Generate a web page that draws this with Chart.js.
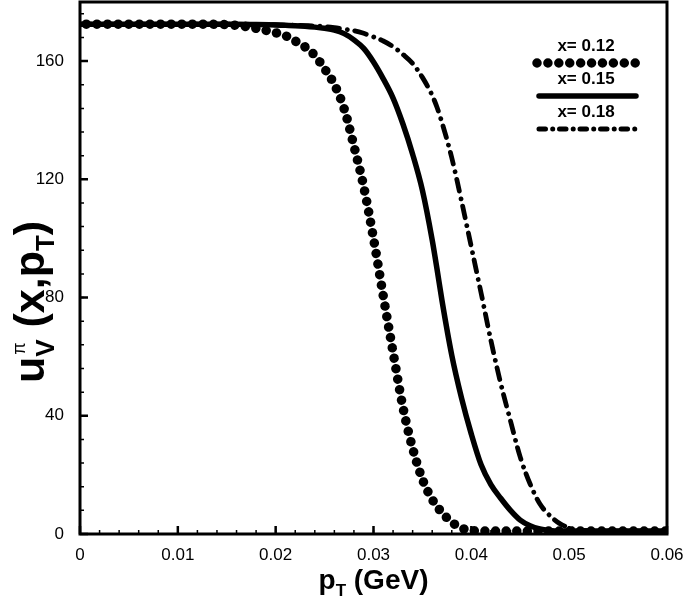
<!DOCTYPE html>
<html lang="en">
<head>
    <meta charset="UTF-8">
    <title>u_V pion TMD vs pT</title>
    <script src="https://cdn.jsdelivr.net/npm/chart.js"></script>
    <style>
        html, body { margin: 0; padding: 0; background: #fff; }
        canvas { display: block; }
    </style>
</head>
<body>
    <canvas id="tmdChart" width="685" height="601"></canvas>

    <script>
        // pT grid (GeV) shared by the three curves
        const pT = [0, 0.004, 0.008, 0.012, 0.016, 0.018, 0.020, 0.021, 0.022, 0.023,
                    0.024, 0.025, 0.026, 0.027, 0.028, 0.029, 0.030, 0.031, 0.032, 0.033,
                    0.034, 0.035, 0.036, 0.0365, 0.037, 0.038, 0.039, 0.040, 0.041, 0.042,
                    0.043, 0.044, 0.045, 0.046, 0.047, 0.048, 0.049, 0.050, 0.051, 0.052,
                    0.054, 0.057, 0.060];

        // x = 0.12 (dots)
        const u012 = [172.5, 172.5, 172.5, 172.5, 172.1, 171.1, 169.6, 168.6, 166.8, 164.8,
                      161.9, 157.4, 152.1, 143.9, 131.3, 117.5, 100.0, 80.5, 61.5, 43.0,
                      29.0, 18.5, 11.7, 9.3, 7.2, 4.0, 2.0, 1.2, 1.0, 1.0,
                      1.0, 1.0, 1.0, 1.0, 1.0, 1.0, 1.0, 1.0, 1.0, 1.0,
                      1.0, 1.0, 1.0];

        // x = 0.15 (solid)
        const u015 = [172.5, 172.5, 172.5, 172.5, 172.5, 172.4, 172.2, 172.1, 172.0, 171.8,
                      171.5, 171.1, 170.5, 169.3, 167.2, 164.3, 159.7, 154.0, 147.5, 138.8,
                      128.5, 116.3, 99.5, 89.5, 79.0, 60.5, 46.0, 33.8, 23.4, 16.7,
                      12.1, 8.0, 4.7, 2.8, 1.7, 1.2, 1.0, 1.0, 1.0, 1.0,
                      1.0, 1.0, 1.0];

        // x = 0.18 (dash-dot)
        const u018 = [172.5, 172.5, 172.5, 172.5, 172.5, 172.4, 172.3, 172.2, 172.1, 172.0,
                      171.9, 171.7, 171.3, 170.8, 170.3, 169.4, 168.2, 166.8, 164.9, 162.3,
                      159.2, 154.5, 148.4, 144.3, 139.2, 127.3, 112.6, 97.1, 81.5, 65.5,
                      51.0, 38.3, 26.0, 17.0, 10.2, 6.3, 3.6, 2.1, 1.4, 1.1,
                      1.0, 1.0, 1.0];

        const seriesLabels = ['x= 0.12', 'x= 0.15', 'x= 0.18'];

        const xTicks = [0, 0.01, 0.02, 0.03, 0.04, 0.05, 0.06];
        const xTickLabels = ['0', '0.01', '0.02', '0.03', '0.04', '0.05', '0.06'];
        const yTicks = [0, 40, 80, 120, 160];
        const yTickLabels = ['0', '40', '80', '120', '160'];
        const xMinorStep = 0.002;
        const yMinorStep = 8;

        const FONT = "'Liberation Sans', Arial, sans-serif";

        function toPoints(ys) {
            return pT.map((x, i) => ({ x: x, y: ys[i] }));
        }

        // legend dash patterns (shorter period than on the curves)
        const legendDash = [[0.01, 10.9], [], [6.5, 7.2, 0.01, 6.8]];

        // frame, inward tick marks, axis titles and legend
        const decorPlugin = {
            id: 'decor',
            afterDatasetsDraw(chart) {
                const ctx = chart.ctx;
                const a = chart.chartArea;
                const xs = chart.scales.x;
                const ys = chart.scales.y;
                ctx.save();
                ctx.strokeStyle = '#000';
                ctx.lineCap = 'butt';

                // minor ticks
                ctx.lineWidth = 1.5;
                ctx.beginPath();
                for (let v = 0; v <= xs.max + 1e-9; v += xMinorStep) {
                    const px = xs.getPixelForValue(v);
                    ctx.moveTo(px, a.bottom);
                    ctx.lineTo(px, a.bottom - 4);
                }
                for (let v = 0; v <= ys.max + 1e-9; v += yMinorStep) {
                    const py = ys.getPixelForValue(v);
                    ctx.moveTo(a.left, py);
                    ctx.lineTo(a.left + 4, py);
                }
                ctx.stroke();

                // major ticks
                ctx.lineWidth = 2.5;
                ctx.beginPath();
                xTicks.forEach(v => {
                    const px = xs.getPixelForValue(v);
                    ctx.moveTo(px, a.bottom);
                    ctx.lineTo(px, a.bottom - 8);
                });
                yTicks.forEach(v => {
                    const py = ys.getPixelForValue(v);
                    ctx.moveTo(a.left, py);
                    ctx.lineTo(a.left + 8, py);
                });
                ctx.stroke();

                // frame
                ctx.lineWidth = 3;
                ctx.strokeRect(a.left, a.top, a.right - a.left, a.bottom - a.top);

                ctx.fillStyle = '#000';
                ctx.textBaseline = 'alphabetic';

                // x axis title: p_T (GeV)
                const big = 'bold 28px ' + FONT;
                const sub = 'bold 17px ' + FONT;
                ctx.font = big;
                const wp = ctx.measureText('p').width;
                const wg = ctx.measureText(' (GeV)').width;
                ctx.font = sub;
                const wt = ctx.measureText('T').width;
                let x0 = (a.left + a.right) / 2 - (wp + wt + wg) / 2;
                const by = 589;
                ctx.textAlign = 'left';
                ctx.font = big;
                ctx.fillText('p', x0, by);
                ctx.font = sub;
                ctx.fillText('T', x0 + wp, by + 7);
                ctx.font = big;
                ctx.fillText(' (GeV)', x0 + wp + wt, by);

                // y axis title: u_V^pi (x,p_T)
                ctx.save();
                ctx.translate(44, 302);
                ctx.rotate(-Math.PI / 2);
                const ybig = 'bold 43px ' + FONT;
                const ysub = 'bold 26px ' + FONT;
                const ysup = '18px ' + FONT;
                ctx.font = ybig;
                const wu = ctx.measureText('u').width;
                const wx = ctx.measureText(' (x,p').width;
                const wc = ctx.measureText(')').width;
                ctx.font = ysub;
                const wv = ctx.measureText('V').width;
                const wT = ctx.measureText('T').width;
                let cx = -(wu + wv + wx + wT + wc) / 2;
                ctx.font = ybig;
                ctx.fillText('u', cx, 0);
                cx += wu;
                ctx.font = ysub;
                ctx.fillText('V', cx, 10);
                ctx.font = ysup;
                ctx.fillText('\u03c0', cx + 2, -19);
                cx += wv;
                ctx.font = ybig;
                ctx.fillText(' (x,p', cx, 0);
                cx += wx;
                ctx.font = ysub;
                ctx.fillText('T', cx, 10);
                cx += wT;
                ctx.font = ybig;
                ctx.fillText(')', cx, 0);
                ctx.restore();

                // legend: label above a line sample
                const lx0 = 537, lx1 = 636, lcx = 586;
                chart.data.datasets.forEach((ds, i) => {
                    const ty = 51 + i * 33;
                    const ly = 63 + i * 33;
                    ctx.font = 'bold 17px ' + FONT;
                    ctx.textAlign = 'center';
                    ctx.fillText(ds.label, lcx, ty);
                    ctx.beginPath();
                    ctx.lineWidth = i === 2 ? 5 : ds.borderWidth;
                    ctx.lineCap = ds.borderCapStyle || 'butt';
                    ctx.setLineDash(legendDash[i]);
                    ctx.lineDashOffset = 0;
                    ctx.moveTo(lx0 + (i === 0 ? 0 : 2), ly);
                    ctx.lineTo(lx1, ly);
                    ctx.stroke();
                });
                ctx.setLineDash([]);
                ctx.restore();
            }
        };

        const ctx = document.getElementById('tmdChart').getContext('2d');
        const tmdChart = new Chart(ctx, {
            type: 'line',
            data: {
                datasets: [
                    {
                        label: seriesLabels[0],
                        data: toPoints(u012),
                        borderColor: '#000',
                        borderWidth: 9.5,
                        borderCapStyle: 'round',
                        borderDash: [0.01, 10.6],
                        borderDashOffset: 4.3,
                        pointRadius: 0,
                        cubicInterpolationMode: 'monotone',
                        fill: false
                    },
                    {
                        label: seriesLabels[1],
                        data: toPoints(u015),
                        borderColor: '#000',
                        borderWidth: 5.5,
                        borderCapStyle: 'round',
                        pointRadius: 0,
                        cubicInterpolationMode: 'monotone',
                        fill: false
                    },
                    {
                        label: seriesLabels[2],
                        data: toPoints(u018),
                        borderColor: '#000',
                        borderWidth: 4.8,
                        borderCapStyle: 'round',
                        borderDash: [12, 8, 0.01, 7.5],
                        pointRadius: 0,
                        cubicInterpolationMode: 'monotone',
                        fill: false
                    }
                ]
            },
            options: {
                responsive: false,
                animation: false,
                devicePixelRatio: 1,
                layout: { padding: { top: 2, right: 18, left: 0, bottom: 0 } },
                plugins: {
                    legend: { display: false },
                    tooltip: { enabled: false }
                },
                scales: {
                    x: {
                        type: 'linear',
                        min: 0,
                        max: 0.06,
                        grid: { display: false },
                        border: { display: false },
                        afterBuildTicks: s => { s.ticks = xTicks.map(v => ({ value: v })); },
                        afterFit: s => { s.height = 67; s.paddingLeft = 0; s.paddingRight = 0; },
                        ticks: {
                            color: '#000',
                            padding: 3,
                            maxRotation: 0,
                            font: { family: FONT, size: 17 },
                            callback: (v, i) => xTickLabels[i]
                        }
                    },
                    y: {
                        type: 'linear',
                        min: 0,
                        max: 180,
                        grid: { display: false },
                        border: { display: false },
                        afterBuildTicks: s => { s.ticks = yTicks.map(v => ({ value: v })); },
                        afterFit: s => { s.width = 80; s.paddingTop = 0; s.paddingBottom = 0; },
                        ticks: {
                            color: '#000',
                            padding: 8,
                            font: { family: FONT, size: 17 },
                            callback: (v, i) => yTickLabels[i]
                        }
                    }
                }
            },
            plugins: [decorPlugin]
        });
    </script>
</body>
</html>
